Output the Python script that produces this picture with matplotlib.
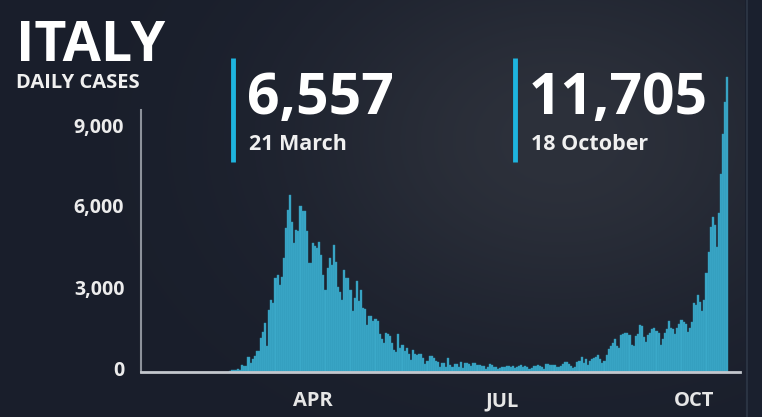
import numpy as np
import pandas as pd
import matplotlib
matplotlib.use('Agg')
import matplotlib.pyplot as plt
import matplotlib.dates as mdates
from matplotlib.transforms import ScaledTranslation

# daily new cases, Italy 2020
feb = [20, 62, 76, 73, 93, 78, 250, 238, 240]  # from 21 Feb
mar = [573, 335, 466, 587, 769, 778, 1247, 1492, 1797, 977, 2313, 2651, 2547, 3497, 3590, 3233,
       3526, 4207, 5322, 5986, 6557, 5560, 4789, 5249, 5210, 6153, 5959, 5974, 5217, 4050, 4053]
apr = [4782, 4668, 4585, 4805, 4316, 3599, 3039, 3836, 4204, 3951, 4694, 4092, 3153, 2972, 2667,
       3786, 3493, 3491, 3047, 2256, 2729, 3370, 2646, 3021, 2357, 2324, 1739, 2091, 2086, 1872]
may = [1965, 1900, 1389, 1221, 1075, 1444, 1401, 1327, 1083, 802, 744, 1402, 888, 992, 789, 875,
       675, 451, 813, 665, 642, 652, 669, 531, 300, 397, 584, 593, 516, 416, 355]
jun = [178, 318, 321, 177, 518, 270, 197, 280, 283, 202, 379, 163, 346, 338, 301, 210, 329, 333,
       251, 262, 224, 218, 122, 190, 296, 259, 175, 174, 126, 142]
jul = [182, 201, 223, 235, 192, 208, 138, 193, 229, 276, 188, 234, 169, 114, 162, 230, 233, 249,
       219, 190, 129, 282, 306, 252, 275, 255, 170, 181, 212, 289, 386]
aug = [379, 295, 239, 159, 190, 384, 402, 552, 347, 463, 259, 412, 481, 523, 574, 629, 479, 320,
       403, 642, 845, 947, 1071, 1210, 953, 878, 1367, 1411, 1460, 1444, 1365]
sep = [996, 975, 1326, 1397, 1733, 1695, 1297, 1108, 1370, 1434, 1597, 1616, 1501, 1458, 1008,
       1229, 1452, 1585, 1907, 1638, 1587, 1392, 1640, 1786, 1912, 1869, 1766, 1494, 1648, 1851]
oct_ = [2548, 2499, 2844, 2578, 2257, 2677, 3678, 4458, 5372, 5724, 5456, 4619, 5901, 7332,
        8804, 10010, 10925]

cases = feb + mar + apr + may + jun + jul + aug + sep + oct_
days = pd.date_range('2020-02-21', periods=len(cases), freq='D')

y_ticks = [0, 3000, 6000, 9000]
y_tick_labels = ['0', '3,000', '6,000', '9,000']
month_ticks = pd.to_datetime(['2020-04-01', '2020-07-01', '2020-10-01'])
month_labels = ['APR', 'JUL', 'OCT']

callouts = [('6,557', '21 March'), ('11,705', '18 October')]

W, H = 762, 417
fig = plt.figure(figsize=(W / 100, H / 100), dpi=100)
fig.patch.set_facecolor('#1b202c')

# background glow
bg = fig.add_axes([0, 0, 1, 1])
yy, xx = np.mgrid[0:H, 0:W]
glow = np.exp(-(((xx - 560) / 260.0) ** 2 + ((yy - 140) / 190.0) ** 2))
base = np.array([0x19, 0x1e, 0x2b]) / 255
light = np.array([0x2d, 0x31, 0x3b]) / 255
img = base[None, None, :] + glow[..., None] * (light - base)[None, None, :]
img[:, 745:] = np.array([0x1a, 0x20, 0x2e]) / 255
img[:, 746:748] = np.array([0x2a, 0x33, 0x42]) / 255
bg.imshow(img, aspect='auto', extent=[0, W, H, 0])
bg.set_axis_off()

ax = fig.add_axes([141 / W, 1 - 372 / H, 599 / W, 322 / H])
ax.set_facecolor('none')
ax.bar(days, cases, width=1.0, color='#3ba9c9', edgecolor='#2e94b3', linewidth=0.3)

px_day = (694 - 313) / 183
x0 = mdates.date2num(pd.Timestamp('2020-04-01')) - (313 - 141) / px_day
x1 = mdates.date2num(pd.Timestamp('2020-10-01')) + (740 - 694) / px_day
ax.set_xlim(x0, x1)
ax.set_ylim(0, 322 / 27 * 1000)

for s in ['top', 'right']:
    ax.spines[s].set_visible(False)
ax.spines['left'].set_bounds(0, (372 - 110) / 27 * 1000)
ax.spines['left'].set_color('#8d929b')
ax.spines['left'].set_linewidth(1.5)
ax.spines['bottom'].set_color('#c3c7cd')
ax.spines['bottom'].set_linewidth(2)

font = 'Open Sans'
ax.set_yticks(y_ticks)
ax.set_yticklabels(y_tick_labels, fontsize=14, fontweight='bold', color='#ececec', family=font)
ax.tick_params(axis='y', length=0, pad=12)
for lab in ax.get_yticklabels():
    lab.set_transform(lab.get_transform() + ScaledTranslation(0, 0.04, fig.dpi_scale_trans))
ax.set_xticks(month_ticks)
ax.set_xticklabels(month_labels, fontsize=14.5, fontweight='bold', color='#e6e6e6', family=font)
ax.tick_params(axis='x', length=0, pad=14)

# titles
fig.text(16 / W, 1 - 61 / H, 'ITALY', fontsize=40, fontweight='bold', color='white',
         family=font, va='baseline')
fig.text(16 / W, 1 - 88 / H, 'DAILY CASES', fontsize=14.5, fontweight='bold', color='#f0f0f0',
         family=font, va='baseline')

# callouts
for (num, date), xb in zip(callouts, [233, 515]):
    fig.add_artist(plt.Line2D([xb / W, xb / W], [1 - 58 / H, 1 - 162 / H], color='#1eb4de',
                              linewidth=3.5, solid_capstyle='butt'))
    fig.text((xb + 14) / W, 1 - 114 / H, num, fontsize=41, fontweight='bold', color='white',
             family=font, va='baseline')
    fig.text((xb + 16) / W, 1 - 150 / H, date, fontsize=15.5, fontweight='bold', color='#f0f0f0',
             family=font, va='baseline')

fig.savefig('out.png', dpi=100, facecolor=fig.get_facecolor())
